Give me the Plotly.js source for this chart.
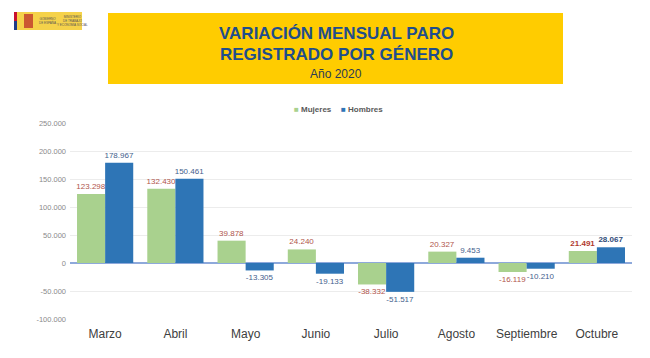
<!DOCTYPE html>
<html>
<head>
<meta charset="utf-8">
<script src="https://cdn.plot.ly/plotly-3.0.1.min.js"></script>
<style>
  html, body { margin: 0; padding: 0; background: #ffffff; }
  #chart { width: 650px; height: 358px; }
</style>
</head>
<body>
<div id="chart"></div>
<script>
// ---- Data ----
const months = ['Marzo', 'Abril', 'Mayo', 'Junio', 'Julio', 'Agosto', 'Septiembre', 'Octubre'];
const mujeres = [123298, 132430, 39878, 24240, -38332, 20327, -16119, 21491];
const hombres = [178967, 150461, -13305, -19133, -51517, 9453, -10210, 28067];
const yTickVals = [-100000, -50000, 0, 50000, 100000, 150000, 200000, 250000];
const highlightMonth = 'Octubre';

// ---- Helpers ----
function fmt(v) {
  const s = Math.abs(Math.round(v)).toString().replace(/\B(?=(\d{3})+(?!\d))/g, '.');
  return (v < 0 ? '-' : '') + s;
}
const W = 650, H = 358;
const M = { l: 70, r: 18, t: 123, b: 39 };
const PW = W - M.l - M.r, PH = H - M.t - M.b;
const px = x => (x - M.l) / PW;
const py = y => (H - M.b - y) / PH;

function labels(vals) {
  return vals.map((v, i) => months[i] === highlightMonth ? '<b>' + fmt(v) + '</b>' : fmt(v));
}
function labelColors(base, strong) {
  return months.map(m => m === highlightMonth ? strong : base);
}

const FONT = 'Liberation Sans, Arial, sans-serif';

const traces = [
  {
    type: 'bar', name: 'Mujeres', x: months, y: mujeres,
    marker: { color: '#A9D18E' },
    text: labels(mujeres), textposition: 'outside', constraintext: 'none', cliponaxis: false,
    textfont: { family: FONT, size: 8, color: labelColors('#B0554C', '#B03A2E') },
    hoverinfo: 'x+y'
  },
  {
    type: 'bar', name: 'Hombres', x: months, y: hombres,
    marker: { color: '#2E75B6' },
    text: labels(hombres), textposition: 'outside', constraintext: 'none', cliponaxis: false,
    textfont: { family: FONT, size: 8, color: labelColors('#44608C', '#2F4B78') },
    hoverinfo: 'x+y'
  }
];

const layout = {
  width: W, height: H,
  margin: M,
  paper_bgcolor: '#ffffff', plot_bgcolor: '#ffffff',
  font: { family: FONT, color: '#404040' },
  showlegend: false,
  barmode: 'group', bargap: 0.2, bargroupgap: 0,
  xaxis: {
    type: 'category', showgrid: false, showline: false, ticks: '',
    tickfont: { family: FONT, size: 12, color: '#404040' },
    ticklabelstandoff: 6, fixedrange: true
  },
  yaxis: {
    range: [-100000, 250000], tickvals: yTickVals, ticktext: yTickVals.map(fmt),
    showgrid: true, gridcolor: '#ECECEC', gridwidth: 1,
    zeroline: true, zerolinecolor: '#8EA9DB', zerolinewidth: 1.5,
    showline: false, ticks: '',
    tickfont: { family: FONT, size: 7.5, color: '#8A8A8A' },
    ticklabelstandoff: 3, fixedrange: true
  },
  title: { text: '' },
  shapes: [
    // yellow title box
    { type: 'rect', xref: 'paper', yref: 'paper', x0: px(108), x1: px(563), y0: py(84), y1: py(13),
      fillcolor: '#FFCC00', line: { width: 0 }, layer: 'below' },
    // logo
    { type: 'rect', xref: 'paper', yref: 'paper', x0: px(14), x1: px(82), y0: py(30), y1: py(12),
      fillcolor: '#F5D24A', line: { width: 0 } },
    { type: 'rect', xref: 'paper', yref: 'paper', x0: px(14), x1: px(17), y0: py(21), y1: py(12),
      fillcolor: '#C8102E', line: { width: 0 } },
    { type: 'rect', xref: 'paper', yref: 'paper', x0: px(14), x1: px(17), y0: py(30), y1: py(21),
      fillcolor: '#1F3C88', line: { width: 0 } },
    { type: 'rect', xref: 'paper', yref: 'paper', x0: px(24), x1: px(33), y0: py(28), y1: py(14),
      fillcolor: '#C0392B', opacity: 0.8, line: { width: 0 } }
  ],
  annotations: [
    { text: 'VARIACIÓN MENSUAL PARO', xref: 'paper', yref: 'paper', x: px(336), y: py(33),
      xanchor: 'center', yanchor: 'middle', showarrow: false,
      font: { family: FONT, size: 17, color: '#1F4E8C', weight: 'bold' } },
    { text: 'REGISTRADO POR GÉNERO', xref: 'paper', yref: 'paper', x: px(336), y: py(54),
      xanchor: 'center', yanchor: 'middle', showarrow: false,
      font: { family: FONT, size: 17, color: '#1F4E8C', weight: 'bold' } },
    { text: 'Año 2020', xref: 'paper', yref: 'paper', x: px(336), y: py(74),
      xanchor: 'center', yanchor: 'middle', showarrow: false,
      font: { family: FONT, size: 12, color: '#2B3A55' } },
    // legend
    { text: '<span style="color:#A9D18E">■</span> Mujeres', xref: 'paper', yref: 'paper', x: px(292), y: py(109),
      xanchor: 'left', yanchor: 'middle', showarrow: false,
      font: { family: FONT, size: 8, color: '#595959', weight: 'bold' } },
    { text: '<span style="color:#2E75B6">■</span> Hombres', xref: 'paper', yref: 'paper', x: px(339), y: py(109),
      xanchor: 'left', yanchor: 'middle', showarrow: false,
      font: { family: FONT, size: 8, color: '#595959', weight: 'bold' } },
    // logo texts
    { text: 'GOBIERNO<br>DE ESPAÑA', xref: 'paper', yref: 'paper', x: px(37), y: py(21),
      xanchor: 'left', yanchor: 'middle', showarrow: false,
      font: { family: FONT, size: 3, color: '#555555' } },
    { text: 'MINISTERIO<br>DE TRABAJO<br>Y ECONOMÍA SOCIAL', xref: 'paper', yref: 'paper', x: px(55), y: py(21),
      xanchor: 'left', yanchor: 'middle', showarrow: false,
      font: { family: FONT, size: 3, color: '#555555' } }
  ]
};

Plotly.newPlot('chart', traces, layout, { displayModeBar: false, staticPlot: true });
</script>
</body>
</html>
